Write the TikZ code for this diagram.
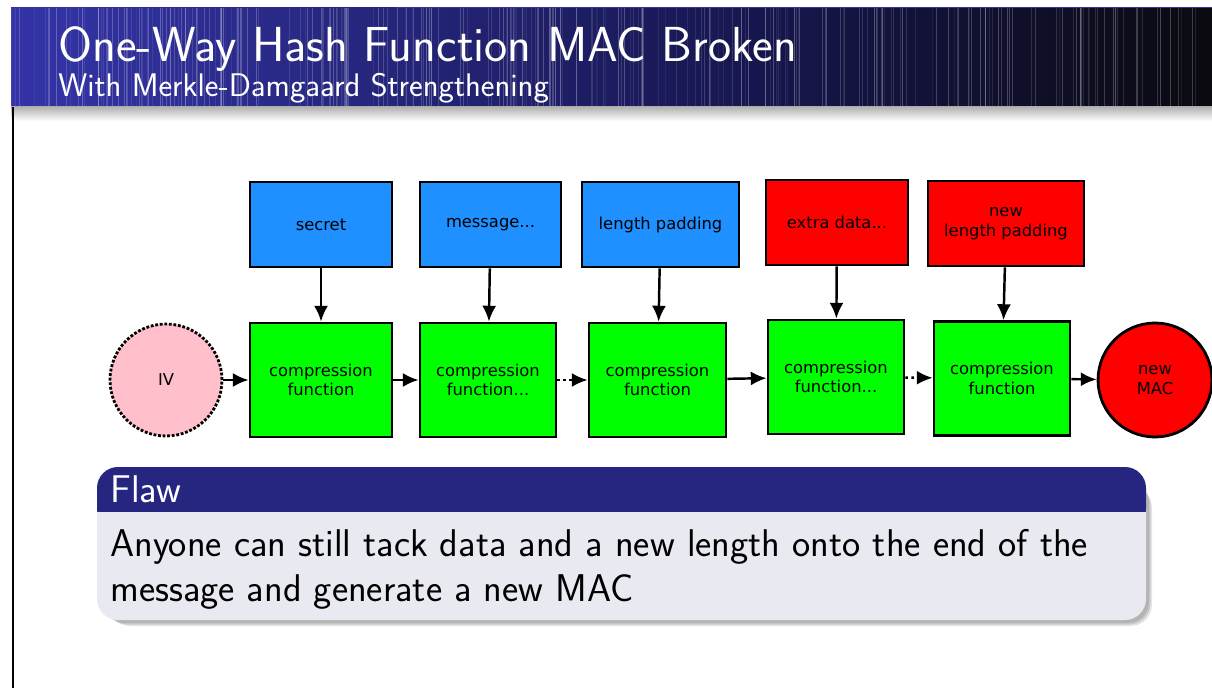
\documentclass[tikz,border=0pt]{standalone}
\usepackage{fontspec}
\newfontfamily\dotfont{DejaVu Sans}
\usetikzlibrary{arrows.meta}
\definecolor{hdblue}{RGB}{52,52,168}
\definecolor{hdnavy}{RGB}{22,22,78}
\definecolor{hddark}{RGB}{10,10,16}
\definecolor{blkhead}{RGB}{38,38,128}
\definecolor{blkbody}{RGB}{233,233,242}
\definecolor{inblue}{RGB}{30,144,255}
\definecolor{cfgreen}{RGB}{0,255,0}
\definecolor{ivpink}{RGB}{255,192,203}
\tikzset{
  box/.style={draw=black, line width=1.6pt, align=center, inner sep=2pt,
    font=\dotfont\fontsize{9.3}{11}\selectfont},
  inbox/.style={box, fill=inblue, minimum height=1.7cm},
  addbox/.style={box, fill=red, minimum height=1.7cm},
  cfbox/.style={box, fill=cfgreen, minimum width=2.72cm, minimum height=2.28cm},
  flow/.style={-{Latex[length=9pt,width=8pt]}, line width=1.4pt},
  dotflow/.style={flow, dotted},
  txt/.style={anchor=base west, inner sep=0pt},
}

\begin{document}
\begin{tikzpicture}[x=0.02cm,y=-0.02cm]
  \useasboundingbox[fill=white] (0,0) rectangle (1212,688);

  % frame title bar
  \shade[left color=hdblue, right color=hdnavy] (11,8) rectangle (760,107);
  \shade[left color=hdnavy, right color=hddark] (760,8) rectangle (1212,107);
  \pgfmathsetseed{7}
  \foreach \i in {1,...,260}{% light stripes over the bar
    \pgfmathsetmacro\xs{11+1200*rnd}
    \pgfmathsetmacro\op{0.05+0.2*rnd}
    \draw[white, opacity=\op, line width=0.6pt] (\xs,8) -- (\xs,107); }
  \draw[hdblue, line width=1pt] (395,7.5) -- (1212,7.5);
  \shade[top color=black!30, bottom color=white] (11,107) rectangle (1212,121);
  \draw[black, line width=1.2pt] (13,107) -- (13,688);

  \node[txt, white, font=\sffamily\fontsize{28}{33}\selectfont] (title)
    at (58,62) {One-Way Hash Function MAC Broken};
  \node[txt, white, font=\sffamily\fontsize{18.6}{22}\selectfont] (subtitle)
    at (58,97) {With Merkle-Damgaard Strengthening};

  % inputs
  \node[inbox, minimum width=2.84cm] (sec) at (321,224.5) {secret};
  \node[inbox, minimum width=2.82cm] (msg) at (490.5,224.5) {message...};
  \node[inbox, minimum width=3.14cm] (len) at (660.5,224.5) {length padding};
  \node[addbox, minimum width=2.84cm] (extra) at (837,222.5) {extra data...};
  \node[addbox, minimum width=3.12cm] (newlen) at (1006,223.5) {new\\length padding};

  % chain
  \node[box, circle, densely dotted, fill=ivpink, minimum size=2.24cm] (iv) at (166,380) {IV};
  \node[cfbox, minimum width=2.84cm] (cf1) at (321,380) {compression\\function};
  \node[cfbox] (cf2) at (488,380) {compression\\function...};
  \node[cfbox, minimum width=2.74cm] (cf3) at (657.5,380) {compression\\function};
  \node[cfbox] (cf4) at (836,377) {compression\\function...};
  \node[cfbox] (cf5) at (1002,378.5) {compression\\function};
  \node[box, circle, fill=red, minimum size=2.28cm] (mac) at (1155,380) {new\\MAC};

  \draw[flow] (sec) -- (cf1);
  \draw[flow] (msg) -- (cf2);
  \draw[flow] (len) -- (cf3);
  \draw[flow] (extra) -- (cf4);
  \draw[flow] (newlen) -- (cf5);

  \draw[flow] (iv) -- (cf1);
  \draw[flow] (cf1) -- (cf2);
  \draw[dotflow] (cf2) -- (cf3);
  \draw[flow] (cf3) -- (cf4);
  \draw[dotflow] (cf4) -- (cf5);
  \draw[flow] (cf5) -- (mac);

  % block with shadow
  \foreach \s/\o in {6/0.10,9/0.12,12/0.10}{
    \fill[black, opacity=\o, rounded corners=12] (97+\s,475+\s) rectangle (1146+0.5*\s,620+0.5*\s); }
  \fill[blkbody, rounded corners=12] (97,467) rectangle (1146,620);
  \fill[blkhead, rounded corners=12] (97,467) rectangle (1146,530);
  \fill[blkbody] (97,512) rectangle (1146,535);
  \node[txt, white, font=\sffamily\fontsize{22}{26}\selectfont] (flaw)
    at (110,502) {Flaw};
  \node[txt, font=\sffamily\fontsize{22}{26}\selectfont] (line1)
    at (110,556) {Anyone can still tack data and a new length onto the end of the};
  \node[txt, font=\sffamily\fontsize{22}{26}\selectfont] (line2)
    at (110,601) {message and generate a new MAC};
\end{tikzpicture}
\end{document}
